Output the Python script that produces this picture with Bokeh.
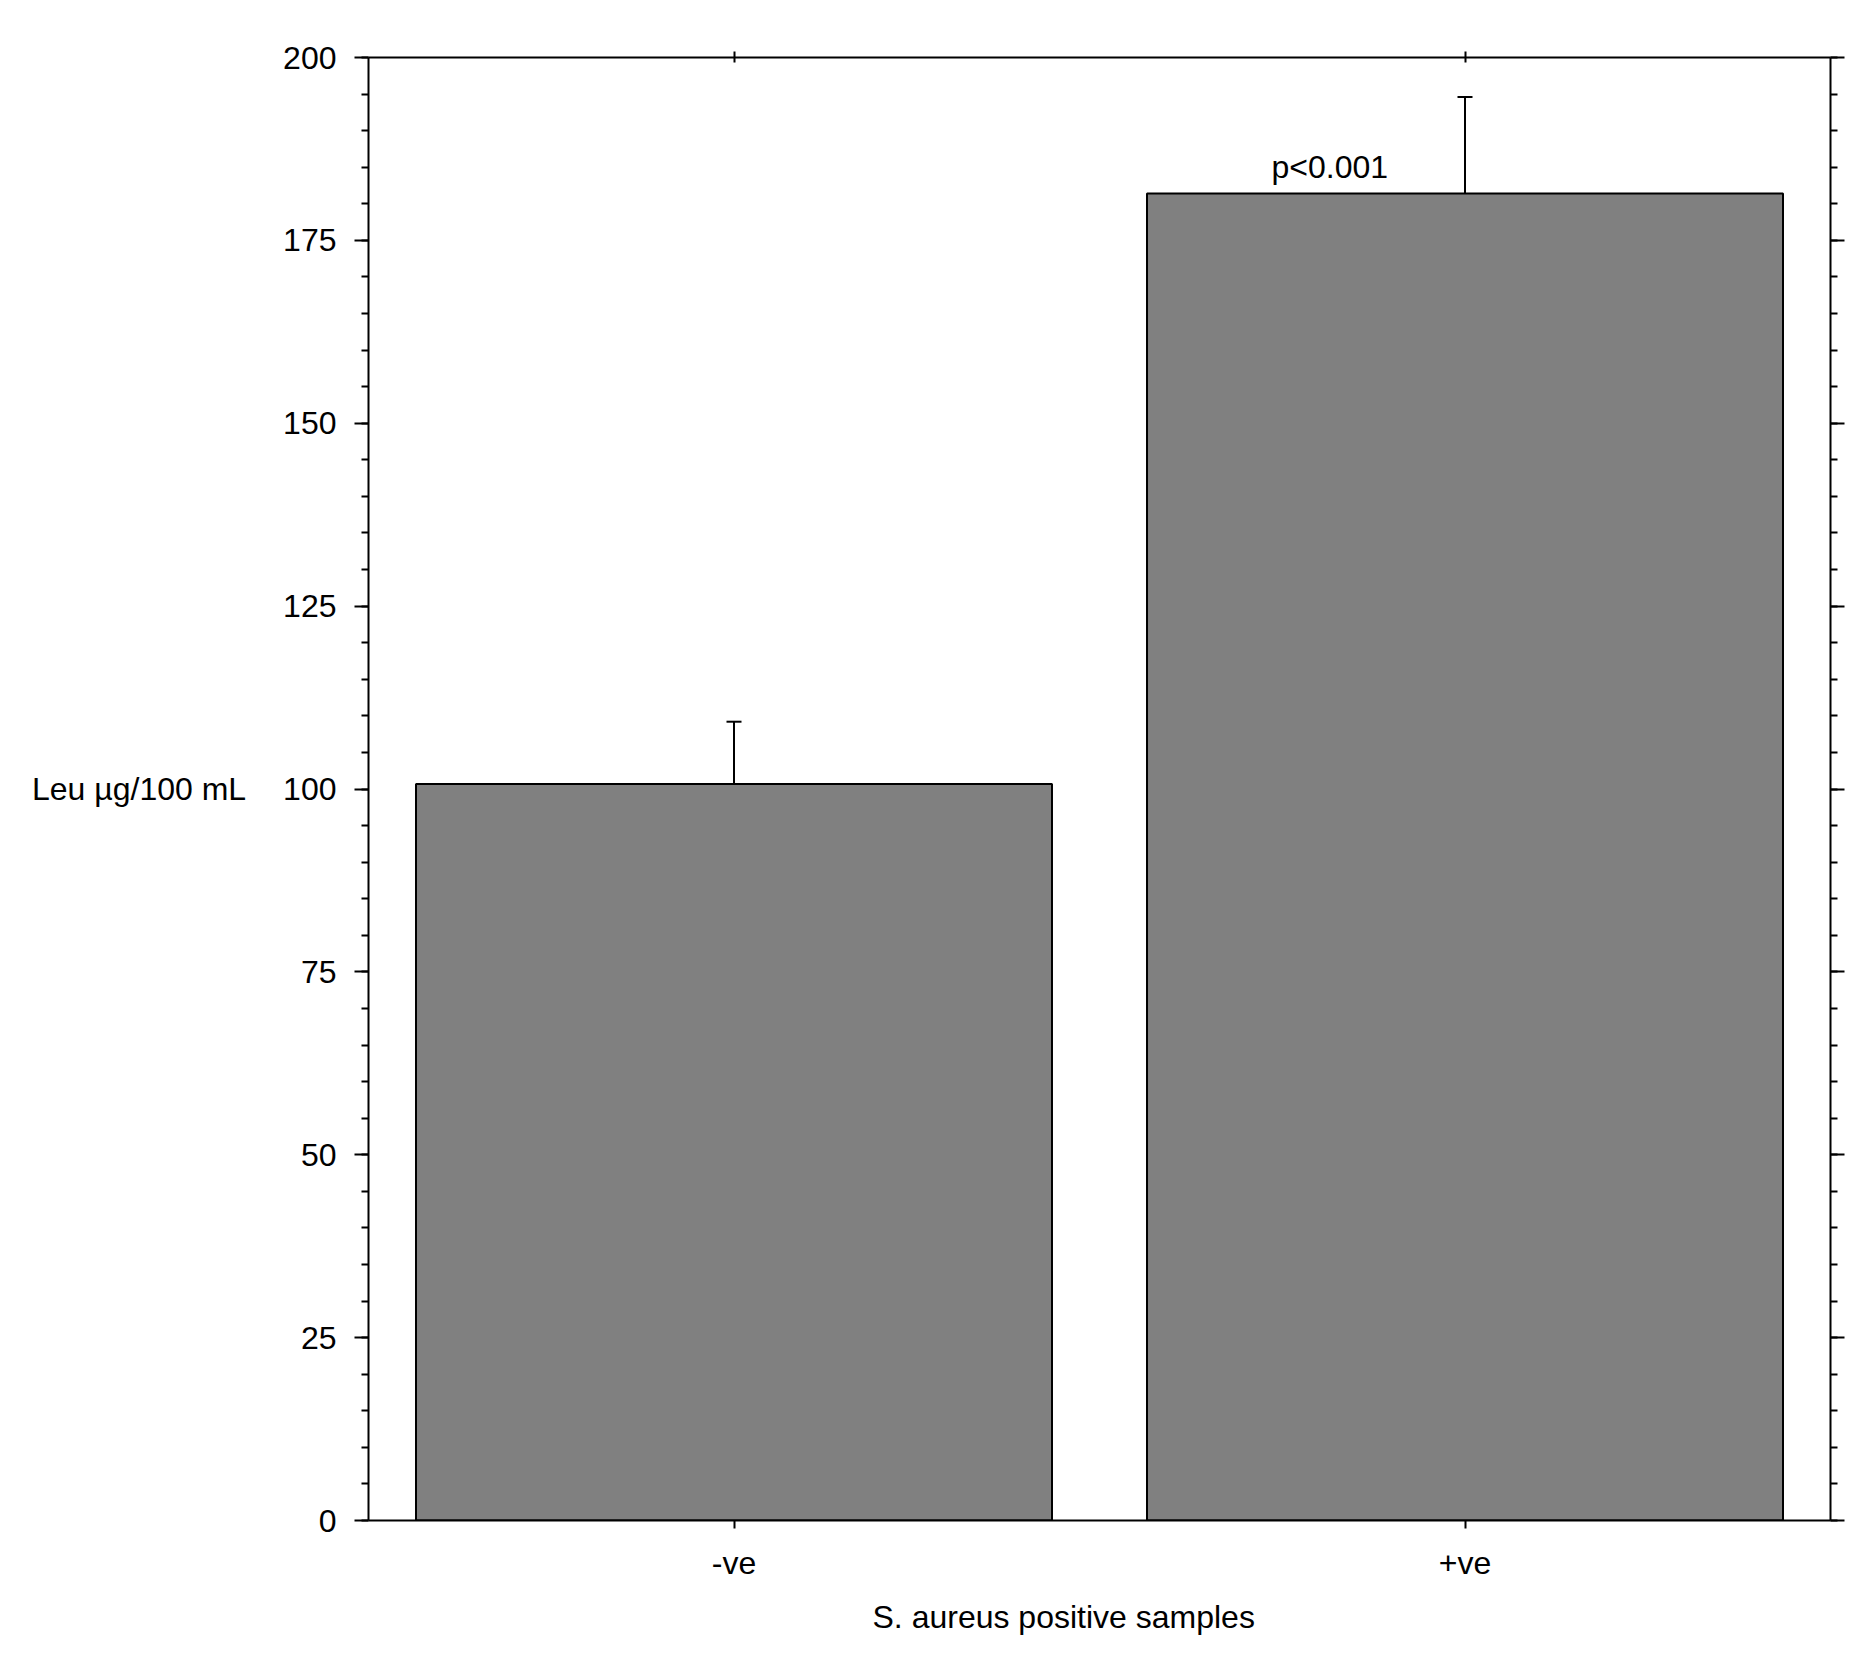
from bokeh.plotting import figure
from bokeh.models import (ColumnDataSource, FactorRange, Range1d, FixedTicker, LinearAxis,
                          CategoricalAxis, Whisker, TeeHead, Title, CustomLabelingPolicy)
from bokeh.transform import dodge
from bokeh.core.properties import value
from bokeh.embed import file_html
from bokeh.resources import INLINE

# ---- data ----
categories = ["-ve", "+ve"]
means = [100.7, 181.4]
errors = [8.5, 13.2]
y_major_ticks = [0, 25, 50, 75, 100, 125, 150, 175, 200]
y_minor_ticks = list(range(0, 201, 5))
annotation_text = ["p<0.001"]
annotation_cat = ["+ve"]
x_title = "S. aureus positive samples"
y_title = "Leu \u00b5g/100 mL"

FONT = "Liberation Sans"
FS = "32px"

upper = [m + e for m, e in zip(means, errors)]
src = ColumnDataSource(dict(cat=categories, mean=means, upper=upper))

p = figure(width=1853, height=1647,
           x_range=FactorRange(*categories, range_padding=0),
           y_range=Range1d(0, 200),
           output_backend="svg", toolbar_location=None,
           min_border_left=368, min_border_right=23,
           min_border_top=57, min_border_bottom=125)
p.outline_line_color = None
p.grid.visible = False
p.background_fill_color = "white"
p.border_fill_color = "white"

p.vbar(x="cat", top="mean", width=0.87, source=src,
       fill_color="#808080", line_color="black", line_width=2)

w = Whisker(base="cat", lower="mean", upper="upper", source=src, dimension="height",
            line_color="black", line_width=2,
            upper_head=TeeHead(size=15, line_width=2, line_color="black"),
            lower_head=None)
p.add_layout(w)

# annotation
ann_src = ColumnDataSource(dict(cat=annotation_cat, y=[means[1]], t=annotation_text))
p.text(x=dodge("cat", -0.185, range=p.x_range), y="y", text="t", source=ann_src,
       text_font=value(FONT), text_font_size=FS, text_align="center",
       text_baseline="alphabetic", y_offset=-27, text_color="black")

no_labels = CustomLabelingPolicy(code="""
    return new indices.constructor(indices.size)
""")

# left axis
ya = p.yaxis[0]
ya.ticker = FixedTicker(ticks=y_major_ticks, minor_ticks=y_minor_ticks)
ya.major_tick_out = 14
ya.major_tick_in = 0
ya.minor_tick_out = 7
ya.minor_tick_in = 0
ya.axis_line_width = 2
ya.major_tick_line_width = 2
ya.minor_tick_line_width = 2
ya.major_label_text_font = FONT
ya.major_label_text_font_size = FS
ya.major_label_text_color = "black"
ya.major_label_standoff = 18
ya.axis_label = y_title
ya.axis_label_text_font = FONT
ya.axis_label_text_font_size = FS
ya.axis_label_text_font_style = "normal"
ya.axis_label_text_color = "black"
ya.axis_label_standoff = 34
try:
    ya.axis_label_orientation = "horizontal"
except Exception:
    pass

# right axis (mirror, no labels)
ra = LinearAxis(ticker=FixedTicker(ticks=y_major_ticks, minor_ticks=y_minor_ticks),
                major_tick_out=14, major_tick_in=0, minor_tick_out=7, minor_tick_in=0,
                axis_line_width=2, major_tick_line_width=2, minor_tick_line_width=2,
                major_label_policy=no_labels, major_label_standoff=0,
                major_label_text_font_size="1px")
p.add_layout(ra, "right")

# bottom axis
xa = p.xaxis[0]
xa.major_tick_out = 8
xa.major_tick_in = 0
xa.axis_line_width = 2
xa.major_tick_line_width = 2
xa.major_label_text_font = FONT
xa.major_label_text_font_size = FS
xa.major_label_text_color = "black"
xa.major_label_standoff = 16

# top axis
ta = CategoricalAxis(major_tick_out=6, major_tick_in=5, axis_line_width=2,
                     major_tick_line_width=2, major_label_policy=no_labels,
                     major_label_standoff=0, major_label_text_font_size="1px")
p.add_layout(ta, "above")

# x title
p.add_layout(Title(text=x_title, align="left", offset=504, standoff=26,
                   text_font=FONT, text_font_size=FS, text_font_style="normal",
                   text_color="black"), "below")

open("out.html", "w").write(file_html(p, INLINE))
